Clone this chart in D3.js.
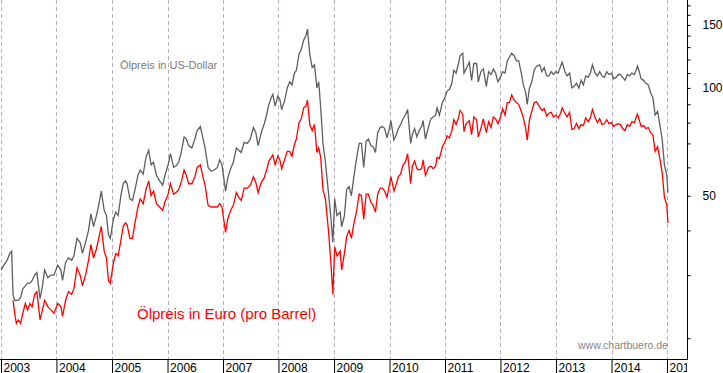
<!DOCTYPE html>
<html>
<head>
<meta charset="utf-8">
<script src="https://cdn.jsdelivr.net/npm/d3@7"></script>
<style>
  body { margin: 0; background: #fff; }
  svg { display: block; font-family: "Liberation Sans", Arial, sans-serif; }
</style>
</head>
<body>
<div id="chart"></div>
<script>
// Data (Brent): dates, price in USD, price in EUR
const dates = [
  "2003-01-02","2003-01-20","2003-02-10","2003-02-28","2003-03-12","2003-03-21","2003-04-01","2003-04-12","2003-04-25","2003-05-10","2003-05-25","2003-06-10","2003-06-25","2003-07-10","2003-07-25","2003-08-10","2003-08-25","2003-09-15","2003-10-01","2003-10-15","2003-11-05","2003-11-25","2003-12-15",
  "2004-01-10","2004-01-30","2004-02-10","2004-03-01","2004-03-20","2004-04-10","2004-04-25","2004-05-15","2004-06-05","2004-06-20","2004-07-10","2004-07-30","2004-08-15","2004-09-01","2004-09-20","2004-10-05","2004-10-22","2004-11-10","2004-11-25","2004-12-08","2004-12-20",
  "2005-01-10","2005-01-25","2005-02-10","2005-02-28","2005-03-15","2005-03-30","2005-04-10","2005-04-28","2005-05-15","2005-06-01","2005-06-20","2005-07-05","2005-07-25","2005-08-12","2005-08-30","2005-09-15","2005-10-01","2005-10-20","2005-11-10","2005-11-30","2005-12-15",
  "2006-01-05","2006-01-20","2006-02-10","2006-02-25","2006-03-15","2006-04-01","2006-04-20","2006-05-05","2006-05-20","2006-06-10","2006-06-30","2006-07-15","2006-08-05","2006-08-20","2006-09-05","2006-09-25","2006-10-15","2006-11-05","2006-11-25","2006-12-10","2006-12-25",
  "2007-01-18","2007-02-01","2007-02-20","2007-03-10","2007-03-30","2007-04-15","2007-05-01","2007-05-20","2007-06-10","2007-06-30","2007-07-20","2007-08-05","2007-08-20","2007-09-10","2007-09-28","2007-10-15","2007-10-30","2007-11-15","2007-11-25","2007-12-10","2007-12-28",
  "2008-01-10","2008-01-22","2008-02-10","2008-02-28","2008-03-15","2008-03-30","2008-04-15","2008-04-28","2008-05-15","2008-05-30","2008-06-15","2008-06-30","2008-07-10","2008-07-25","2008-08-10","2008-08-25","2008-09-10","2008-09-22","2008-10-05","2008-10-20","2008-11-05","2008-11-25","2008-12-10","2008-12-24",
  "2009-01-05","2009-01-20","2009-02-10","2009-02-20","2009-03-10","2009-03-25","2009-04-10","2009-04-25","2009-05-10","2009-05-30","2009-06-15","2009-06-30","2009-07-15","2009-07-31","2009-08-15","2009-08-31","2009-09-15","2009-09-30","2009-10-15","2009-10-31","2009-11-15","2009-11-30","2009-12-15","2009-12-31",
  "2010-01-10","2010-01-30","2010-02-15","2010-02-28","2010-03-15","2010-03-31","2010-04-15","2010-04-30","2010-05-20","2010-05-31","2010-06-15","2010-06-30","2010-07-15","2010-07-31","2010-08-10","2010-08-25","2010-09-15","2010-09-30","2010-10-15","2010-10-31","2010-11-10","2010-11-25","2010-12-15","2010-12-31",
  "2011-01-15","2011-01-30","2011-02-15","2011-02-28","2011-03-15","2011-03-31","2011-04-10","2011-04-28","2011-05-06","2011-05-20","2011-06-10","2011-06-25","2011-07-10","2011-07-28","2011-08-08","2011-08-25","2011-09-10","2011-09-30","2011-10-15","2011-10-31","2011-11-15","2011-11-30","2011-12-15","2011-12-31",
  "2012-01-15","2012-01-31","2012-02-15","2012-02-29","2012-03-15","2012-03-31","2012-04-15","2012-04-30","2012-05-15","2012-05-31","2012-06-15","2012-06-25","2012-07-10","2012-07-25","2012-08-10","2012-08-25","2012-09-15","2012-09-30","2012-10-15","2012-10-31","2012-11-15","2012-11-30","2012-12-15","2012-12-31",
  "2013-01-15","2013-01-31","2013-02-10","2013-02-28","2013-03-15","2013-03-31","2013-04-15","2013-04-30","2013-05-15","2013-05-31","2013-06-15","2013-06-30","2013-07-15","2013-07-31","2013-08-15","2013-08-28","2013-09-15","2013-09-30","2013-10-15","2013-10-31","2013-11-15","2013-11-30","2013-12-15","2013-12-31",
  "2014-01-15","2014-01-31","2014-02-15","2014-02-28","2014-03-15","2014-03-31","2014-04-15","2014-04-30","2014-05-15","2014-05-31","2014-06-15","2014-06-20","2014-06-30","2014-07-15","2014-07-31","2014-08-15","2014-08-31","2014-09-15","2014-09-30","2014-10-15","2014-10-31","2014-11-15","2014-11-30","2014-12-15","2014-12-31",
  "2015-01-07"
];

const usd = [
  31,32,33,34.5,35,26.5,25.5,25.5,25.5,26,27.5,28,28.5,28.5,29,30,30.5,25.8,28,31,29.5,30,30,
  32,31,29,32.5,33.5,33,34,38,37,34.5,37,40,44.5,41,44,47,51.5,45.5,44,39,38,
  43,45,44,50,54,55,54,49,48.5,52,57,59,57.5,64,67,61,62,57,55,53.5,57,
  61,65.5,60,60.5,62,66,73,72,69,68,72,76,78,73,68,60,58.5,59,60,63,61,
  51.5,56,59.5,62,68,67,66,70.5,70,72,77.5,75,69,75,79,84,90,94,96,89,95,
  93,87,92,100,104,102,110,112,124,128,136,140,146,124,114,116,100,104,88,70,62,51,44,37,
  49,44,45,41,44,52,53,50,56,64,70,70,60,71,72,69,68.5,66,75,77.5,78,77,72.5,77,
  81,71.5,74,77,79,82,84,87,70,74,77,73,76,78,81,72,78,82,83,84,88,84,91,94,
  98,99,103,112,110,117,123,125,110,113,118,105,117,117,104,111,113,101,111,109,113,110,104,107,
  111,110,119,122,125,123,119,119,111,102,97,90,100,104,112,115,116,111,114,108,108,111,109,111,
  110,115,118,111,108,110,100,101,103,100,105,102,108,107,110,116,110,108,111,108,107,111,109,110,
  106,107,109,109,107,105,109,108,110,109,113,115,112,106,105,103,102,97,94,84,86,79,72,61,57,
  51
];

const eur = [
  null,null,null,null,null,25.5,23.5,22,22.5,22,23.5,25,24,25,24.5,26.5,27,22.5,24,25.5,24.5,24,23.5,
  25,24.5,23,25.5,27,26.5,27.5,31.5,30,28,30,33,36.5,33.5,35.5,38,41,35,33.5,29,28.5,
  32.5,34.5,34,37.5,41,42,41.5,38,38,42,46.5,49,47.5,52,55,50,51.5,47.5,46.5,45.5,48,
  50.5,54,50.5,51,52,54.5,59,57,54,54,56.5,60,61,57,53.5,47,46.5,46.5,46.5,47.5,46.5,
  39.5,43,45.5,47,51,49.5,48.5,52.5,52.5,53.5,56.5,54.5,51,54.5,56,59,62.5,64,65,61,64.5,
  63,59.5,63,66.5,66.5,64.5,69.5,72,80,82,88,89,92.5,79,76,79,66,68,64,52,49,40,33,26.5,
  36,34,35,31,34.5,38.5,40,38,41.5,45.5,50.5,50,43,50.5,50.5,48,47,45,50.5,52.5,52.5,51.5,49.5,53.5,
  56.5,51.5,54,56.5,57.5,61,62,65.5,54,60.5,62.5,59.5,59,59.5,63,57,60,60.5,59.5,60.5,64,63.5,68.5,70.5,
  73.5,72.5,76,81.5,79,82.5,86.5,84.5,75.5,79.5,81,74,83,81.5,73,77,82,75,80.5,77.5,83,82,79.5,82.5,
  87.5,84,91,91,95.5,92.5,91,90,86.5,82.5,77,71.5,81.5,86,91,91.5,88.5,86.5,87.5,83.5,85,85.5,83,84,
  82.5,85,88,85,83,85.5,76.5,77,79.5,77,79,78.5,82.5,80.5,82.5,87,82.5,80,82,79,79.5,81.5,79.5,80,
  78,79,79.5,79,77,76,79,78,80.5,80,83.5,84.5,82,78,78.5,77,77.5,75,74,66.5,68.5,63.5,58,49.5,47,
  42
];

const years = d3.range(2003, 2016);
const yTicks = [20, 30, 40, 50, 60, 70, 80, 90, 100, 110, 120, 130, 140, 150, 160, 170];
const yLabels = [50, 100, 150];

const width = 723, height = 373;
const plotRight = 687, plotBottom = 359;

const parse = d3.timeParse("%Y-%m-%d");
const rows = dates.map((d, i) => ({ date: parse(d), usd: usd[i], eur: eur[i] }));

const x = d3.scaleTime()
  .domain([new Date(2003, 0, 1), new Date(2015, 0, 1)])
  .range([1, 667]);

const y = d3.scaleLog()
  .domain([17.5, 176])
  .range([plotBottom, 0]);

const svg = d3.select("#chart").append("svg")
  .attr("width", width)
  .attr("height", height);

svg.append("clipPath").attr("id", "plot")
  .append("rect").attr("x", 0).attr("y", 0).attr("width", plotRight).attr("height", plotBottom);
// in the bottom axis group's own coordinates (it is translated down)
svg.append("clipPath").attr("id", "xclip")
  .append("rect").attr("x", 0).attr("y", -1).attr("width", plotRight).attr("height", 20);

// year gridlines
svg.append("g").selectAll("line")
  .data(years)
  .enter().append("line")
  .attr("x1", d => Math.round(x(new Date(d, 0, 1))) + 0.5)
  .attr("x2", d => Math.round(x(new Date(d, 0, 1))) + 0.5)
  .attr("y1", 0)
  .attr("y2", plotBottom)
  .attr("stroke", "#b8adbf")
  .attr("stroke-dasharray", "4,3");

// lines
const lineUsd = d3.line().x(d => x(d.date)).y(d => y(d.usd));
const lineEur = d3.line().defined(d => d.eur != null).x(d => x(d.date)).y(d => y(d.eur));

const g = svg.append("g").attr("clip-path", "url(#plot)");
g.append("path").datum(rows)
  .attr("d", lineUsd)
  .attr("fill", "none")
  .attr("stroke", "#5e5e5e")
  .attr("stroke-width", 1.3);
g.append("path").datum(rows)
  .attr("d", lineEur)
  .attr("fill", "none")
  .attr("stroke", "#ff0000")
  .attr("stroke-width", 1.3);

// right axis
const yAxis = svg.append("g")
  .attr("transform", `translate(${plotRight + 0.5},0)`)
  .call(d3.axisRight(y)
    .tickValues(yTicks)
    .tickSize(3)
    .tickPadding(12)
    .tickFormat(d => yLabels.includes(d) ? d : ""));
yAxis.select(".domain").remove();
yAxis.selectAll("text").attr("font-size", 12).attr("font-family", "Liberation Sans, Arial, sans-serif").attr("fill", "#000");
svg.append("line")
  .attr("x1", plotRight + 0.5).attr("x2", plotRight + 0.5)
  .attr("y1", 0).attr("y2", plotBottom + 0.5)
  .attr("stroke", "#000");

// bottom axis
const xAxis = svg.append("g")
  .attr("transform", `translate(0,${plotBottom + 0.5})`)
  .attr("clip-path", "url(#xclip)")
  .call(d3.axisBottom(x)
    .tickValues(years.map(d => new Date(d, 0, 1)))
    .tickSize(14)
    .tickFormat(d3.timeFormat("%Y")));
xAxis.select(".domain").remove();
xAxis.selectAll(".tick line").attr("stroke", "#000");
xAxis.selectAll("text")
  .attr("text-anchor", "start")
  .attr("x", 2)
  .attr("y", 12)
  .attr("dy", 0)
  .attr("font-size", 12)
  .attr("font-family", "Liberation Sans, Arial, sans-serif")
  .attr("fill", "#000");
svg.append("line")
  .attr("x1", 0).attr("x2", plotRight + 0.5)
  .attr("y1", plotBottom + 0.5).attr("y2", plotBottom + 0.5)
  .attr("stroke", "#000");

// labels
svg.append("text")
  .attr("x", 120).attr("y", 69)
  .attr("font-size", 11)
  .attr("fill", "#7b7b7b")
  .text("Ölpreis in US-Dollar");
svg.append("text")
  .attr("x", 137).attr("y", 319)
  .attr("font-size", 15)
  .attr("fill", "#ff0000")
  .text("Ölpreis in Euro (pro Barrel)");
svg.append("text")
  .attr("x", 578).attr("y", 349)
  .attr("font-size", 10.5)
  .attr("fill", "#858585")
  .text("www.chartbuero.de");
</script>
</body>
</html>
